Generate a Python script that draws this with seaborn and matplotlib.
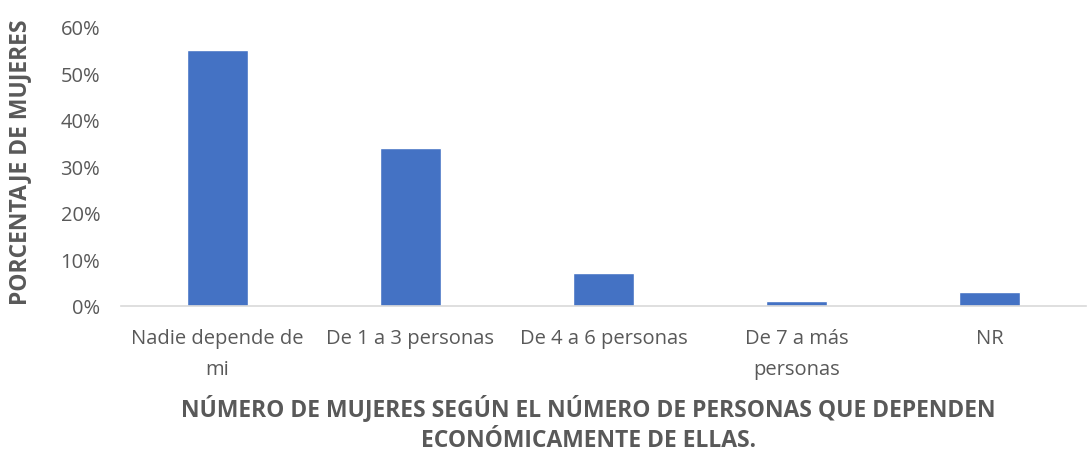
import matplotlib
matplotlib.use("Agg")
import matplotlib.pyplot as plt
import seaborn as sns
import pandas as pd
from matplotlib.ticker import PercentFormatter

categories = ["Nadie depende de\nmi", "De 1 a 3 personas", "De 4 a 6 personas", "De 7 a más\npersonas", "NR"]
values = [0.55, 0.34, 0.07, 0.01, 0.03]
yticks = [0, 0.1, 0.2, 0.3, 0.4, 0.5, 0.6]

sns.set_theme(style="white")
plt.rcParams['font.family'] = ['Open Sans', 'DejaVu Sans']

df = pd.DataFrame({"cat": categories, "val": values})
fig = plt.figure(figsize=(10.92, 4.52), dpi=100)
ax = fig.add_axes([121/1092, 1-307/452, (1086-121)/1092, (307-28)/452])
sns.barplot(data=df, x="cat", y="val", color="#4472C4", width=0.32, ax=ax, saturation=1)
ax.set_ylim(0, 0.6)
ax.set_yticks(yticks)
ax.yaxis.set_major_formatter(PercentFormatter(1.0, decimals=0))
ax.set_xlim(-0.5, 4.5)
for s in ["top", "right", "left"]:
    ax.spines[s].set_visible(False)
ax.spines["bottom"].set_color("#D9D9D9")
ax.spines["bottom"].set_linewidth(1.2)
ax.tick_params(axis="both", length=0, colors="#595959", labelsize=14.5)
ax.tick_params(axis="y", pad=15)
ax.tick_params(axis="x", pad=16)
for lab in ax.get_xticklabels():
    lab.set_linespacing(1.75)
ax.set_xlabel("NÚMERO DE MUJERES SEGÚN EL NÚMERO DE PERSONAS QUE DEPENDEN\nECONÓMICAMENTE DE ELLAS.",
              fontsize=16.5, fontweight="bold", color="#595959", linespacing=1.35)
ax.xaxis.set_label_coords(0.484, -(424-307)/279)
ax.xaxis.label.set_va("center")
ax.set_ylabel("PORCENTAJE DE MUJERES", fontsize=16.5, fontweight="bold", color="#595959")
ax.yaxis.set_label_coords(-89/965, 0.52)
fig.savefig("out.png", dpi=100)
